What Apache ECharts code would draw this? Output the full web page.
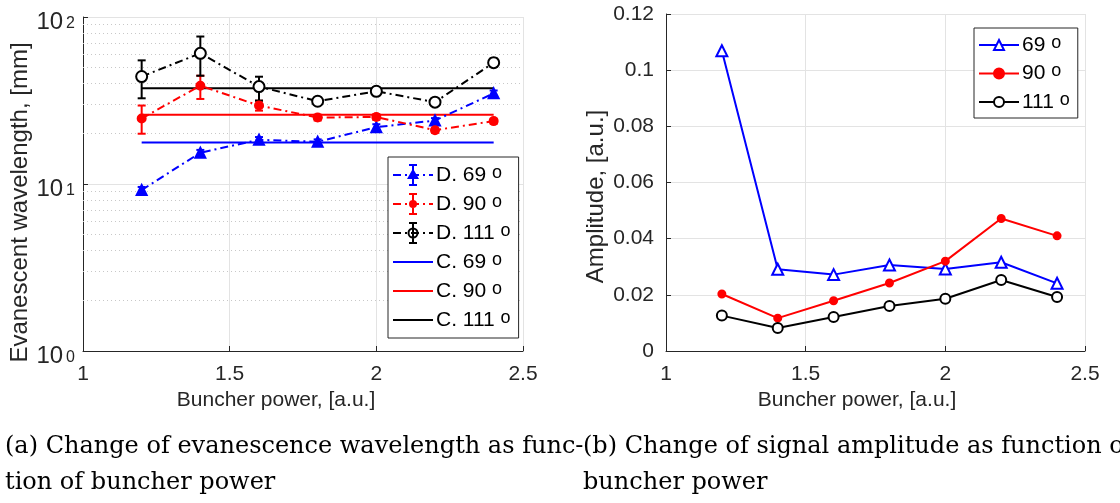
<!DOCTYPE html>
<html>
<head>
<meta charset="utf-8">
<script src="https://cdn.jsdelivr.net/npm/echarts@6/dist/echarts.min.js"></script>
<style>
  html, body { margin: 0; padding: 0; background: #fff; }
  #chart { width: 1120px; height: 503px; }
</style>
</head>
<body>
<div id="chart"></div>
<script>
// buncher power (x) shared by both panels
const power = [1.2, 1.4, 1.6, 1.8, 2.0, 2.2, 2.4]

// (a) evanescent wavelength, measured (D.) with error bars
const d69 = [9.2, 15.4, 18.4, 17.9, 21.9, 24.0, 34.9]
const d69Low = [8.8, 14.8, 17.7, 17.3, 21.0, 23.2, 33.5]
const d69High = [9.6, 16.0, 19.1, 18.5, 22.8, 24.8, 36.3]
const d90 = [24.7, 38.8, 29.5, 25.0, 25.2, 21.0, 23.8]
const d90Low = [20.0, 32.3, 27.5, 24.0, 24.2, 20.3, 23.0]
const d90High = [29.5, 44.5, 31.5, 26.0, 26.2, 21.7, 24.6]
const d111 = [44.0, 60.6, 38.3, 31.3, 35.9, 30.9, 53.3]
const d111Low = [32.6, 44.5, 31.6, 29.7, 34.0, 29.6, 50.3]
const d111High = [55.0, 76.4, 43.9, 33.0, 37.9, 32.2, 56.5]

// (a) calculated levels (C.), drawn from first to last power
const cRange = [1.2, 2.4]
const c69 = 17.7
const c90 = 26.0
const c111 = 37.4

// (b) signal amplitude
const amp69 = [0.1069, 0.0291, 0.0272, 0.0306, 0.0292, 0.0316, 0.0241]
const amp90 = [0.0203, 0.0117, 0.0179, 0.0242, 0.0320, 0.0472, 0.0410]
const amp111 = [0.0126, 0.0082, 0.0121, 0.0160, 0.0186, 0.0253, 0.0192]

// dotted minor grid of the log axis
const logMinor = [2, 3, 4, 5, 6, 7, 8, 9, 20, 30, 40, 50, 60, 70, 80, 90]

const BLUE = '#0000ff'
const RED = '#ff0000'
const BLACK = '#000000'
const AXIS = '#262626'
const FONT = '"Liberation Sans", Arial, sans-serif'
const SERIF = '24px "DejaVu Serif", serif'
const dashDot = [8, 4, 2, 4]

// legend glyphs for the error-bar entries (40 x 22 box): dash-dot line + bar + marker
const dashPath = 'M0,10h8v2h-8zM12,10h2v2h-2zM18,10h8v2h-8zM30,10h2v2h-2zM36,10h4v2h-4z'
const barPath = 'M19,0h2v22h-2zM16,0h8v2h-8zM16,20h8v2h-8z'
const iconTri = 'path://' + dashPath + barPath + 'M20,4.5L26,15L14,15z'
const iconDot = 'path://' + dashPath + barPath + 'M16,11a4,4 0 1,1 8,0a4,4 0 1,1 -8,0z'
const iconRing = 'path://' + dashPath + barPath +
  'M14.5,11a5.5,5.5 0 1,1 11,0a5.5,5.5 0 1,1 -11,0zM16.5,11a3.5,3.5 0 1,0 7,0a3.5,3.5 0 1,0 -7,0z'
const iconLine = 'path://M0,10h40v2h-40z'

const zip = (xs, ys) => xs.map((x, i) => [x, ys[i]])
const errRows = (lo, hi) => power.map((x, i) => [x, lo[i], hi[i]])

const errRender = color => (params, api) => {
  const x = api.value(0)
  const lo = api.coord([x, api.value(1)])
  const hi = api.coord([x, api.value(2)])
  const w = 4
  const style = { stroke: color, lineWidth: 2 }
  return {
    type: 'group',
    children: [
      { type: 'line', shape: { x1: lo[0], y1: lo[1], x2: hi[0], y2: hi[1] }, style },
      { type: 'line', shape: { x1: lo[0] - w, y1: lo[1], x2: lo[0] + w, y2: lo[1] }, style },
      { type: 'line', shape: { x1: hi[0] - w, y1: hi[1], x2: hi[0] + w, y2: hi[1] }, style }
    ]
  }
}

const axisBase = {
  axisLine: { show: true, lineStyle: { color: AXIS, width: 1 } },
  axisTick: { show: true, inside: true, length: 5, lineStyle: { color: AXIS } },
  splitLine: { show: true, lineStyle: { color: '#e3e3e3', width: 1 } },
  nameTextStyle: { fontFamily: FONT, fontSize: 21, color: AXIS },
  nameLocation: 'middle'
}

const xLabel = { fontFamily: FONT, fontSize: 21, color: AXIS, margin: 13 }

const degree = name => `${name} {s|o}`
const legendText = {
  fontFamily: FONT,
  fontSize: 21,
  lineHeight: 22,
  color: BLACK,
  padding: [0, 0, 0, -2],
  rich: {
    s: { fontFamily: FONT, fontSize: 18, lineHeight: 6, verticalAlign: 'top' }
  }
}

const dSeries = (name, data, color, symbol, size, filled) => ({
  name,
  type: 'line',
  xAxisIndex: 0,
  yAxisIndex: 0,
  data: zip(power, data),
  symbol,
  symbolSize: size,
  lineStyle: { color, width: 2, type: dashDot },
  itemStyle: { color: filled ? color : '#fff', borderColor: color, borderWidth: 2 },
  z: 3
})

const cSeries = (name, level, color) => ({
  name,
  type: 'line',
  xAxisIndex: 0,
  yAxisIndex: 0,
  data: cRange.map(x => [x, level]),
  symbol: 'none',
  lineStyle: { color, width: 2 },
  itemStyle: { color },
  z: 2
})

const errSeries = (lo, hi, color) => ({
  type: 'custom',
  xAxisIndex: 0,
  yAxisIndex: 0,
  data: errRows(lo, hi),
  encode: { x: 0, y: [1, 2] },
  renderItem: errRender(color),
  silent: true,
  z: 3
})

const aSeries = (name, data, color, symbol, size, filled) => ({
  name,
  type: 'line',
  xAxisIndex: 1,
  yAxisIndex: 1,
  data: zip(power, data),
  symbol,
  symbolSize: size,
  lineStyle: { color, width: 2 },
  itemStyle: { color: filled ? color : '#fff', borderColor: color, borderWidth: 2 },
  z: 3
})

const legendItem = (name, icon, color) => ({ name, icon, itemStyle: { color, borderWidth: 0 } })

const chart = echarts.init(document.getElementById('chart'), null, { renderer: 'canvas' })

chart.setOption({
  animation: false,
  backgroundColor: '#fff',
  grid: [
    { left: 83, top: 14, width: 440, height: 337 },
    { left: 666, top: 14, width: 419, height: 337 }
  ],
  xAxis: [
    {
      ...axisBase,
      gridIndex: 0,
      type: 'value',
      min: 1,
      max: 2.5,
      interval: 0.5,
      name: 'Buncher power, [a.u.]',
      nameGap: 36,
      nameTextStyle: { ...axisBase.nameTextStyle, padding: [0, 54, 0, 0] },
      axisLabel: xLabel
    },
    {
      ...axisBase,
      gridIndex: 1,
      type: 'value',
      min: 1,
      max: 2.5,
      interval: 0.5,
      name: 'Buncher power, [a.u.]',
      nameGap: 36,
      nameTextStyle: { ...axisBase.nameTextStyle, padding: [0, 37, 0, 0] },
      axisLabel: xLabel
    }
  ],
  yAxis: [
    {
      ...axisBase,
      gridIndex: 0,
      type: 'log',
      logBase: 10,
      min: 1,
      max: 100,
      name: 'Evanescent wavelength, [mm]',
      nameGap: 50,
      nameTextStyle: { ...axisBase.nameTextStyle, fontSize: 24, padding: [0, 37, 0, 0] },
      axisLabel: {
        margin: 8,
        formatter: v => `{b|10}{e|${Math.round(Math.log10(v))}}`,
        rich: {
          b: { fontFamily: FONT, fontSize: 24, lineHeight: 24, color: AXIS, padding: [10, 0, 0, 0] },
          e: { fontFamily: FONT, fontSize: 16, lineHeight: 8, color: AXIS, verticalAlign: 'top', padding: [11, 0, 0, 3] }
        }
      }
    },
    {
      ...axisBase,
      gridIndex: 1,
      type: 'value',
      min: 0,
      max: 0.12,
      interval: 0.02,
      name: 'Amplitude, [a.u.]',
      nameGap: 58,
      nameTextStyle: { ...axisBase.nameTextStyle, fontSize: 24, padding: [0, 28, 0, 0] },
      axisLabel: {
        fontFamily: FONT,
        fontSize: 21,
        color: AXIS,
        margin: 12,
        formatter: v => String(+v.toFixed(2))
      }
    }
  ],
  legend: [
    {
      data: [
        legendItem('D. 69', iconTri, BLUE),
        legendItem('D. 90', iconDot, RED),
        legendItem('D. 111', iconRing, BLACK),
        legendItem('C. 69', iconLine, BLUE),
        legendItem('C. 90', iconLine, RED),
        legendItem('C. 111', iconLine, BLACK)
      ],
      orient: 'vertical',
      left: 388,
      top: 157,
      itemWidth: 40,
      itemHeight: 22,
      itemGap: 7,
      padding: [7, 8, 7, 5],
      borderColor: AXIS,
      borderWidth: 1,
      backgroundColor: '#fff',
      selectedMode: false,
      formatter: degree,
      textStyle: legendText
    },
    {
      data: ['69', '90', '111'],
      orient: 'vertical',
      left: 974,
      top: 28,
      itemWidth: 40,
      itemHeight: 12.5,
      itemGap: 6.5,
      padding: [6, 8, 5, 4],
      borderColor: AXIS,
      borderWidth: 1,
      backgroundColor: '#fff',
      selectedMode: false,
      formatter: degree,
      textStyle: legendText
    }
  ],
  series: [
    dSeries('D. 69', d69, BLUE, 'triangle', 10, true),
    dSeries('D. 90', d90, RED, 'circle', 8, true),
    dSeries('D. 111', d111, BLACK, 'circle', 11, false),
    errSeries(d69Low, d69High, BLUE),
    errSeries(d90Low, d90High, RED),
    errSeries(d111Low, d111High, BLACK),
    {
      ...cSeries('C. 69', c69, BLUE),
      markLine: {
        silent: true,
        symbol: 'none',
        z: 1,
        label: { show: false },
        lineStyle: { color: '#c8c8c8', width: 1, type: [1, 3] },
        data: logMinor.map(v => ({ yAxis: v }))
      }
    },
    cSeries('C. 90', c90, RED),
    cSeries('C. 111', c111, BLACK),
    aSeries('69', amp69, BLUE, 'triangle', 11, false),
    aSeries('90', amp90, RED, 'circle', 7, true),
    aSeries('111', amp111, BLACK, 'circle', 10, false)
  ],
  graphic: [
    { type: 'text', left: 5, top: 435, style: { text: '(a) Change of evanescence wavelength as func-', font: SERIF, fill: BLACK } },
    { type: 'text', left: 5, top: 471, style: { text: 'tion of buncher power', font: SERIF, fill: BLACK } },
    { type: 'text', left: 583, top: 435, style: { text: '(b) Change of signal amplitude as function of', font: SERIF, fill: BLACK } },
    { type: 'text', left: 583, top: 471, style: { text: 'buncher power', font: SERIF, fill: BLACK } }
  ]
})
</script>
</body>
</html>
